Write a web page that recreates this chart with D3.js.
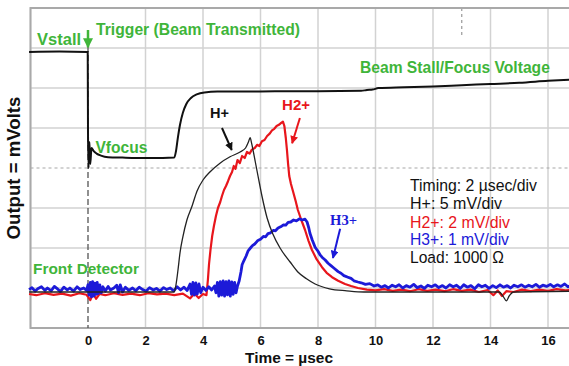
<!DOCTYPE html>
<html>
<head>
<meta charset="utf-8">
<script src="https://cdn.jsdelivr.net/npm/d3@7"></script>
<style>
  html, body { margin: 0; padding: 0; background: #fff; }
  svg { display: block; font-family: 'Liberation Sans', Arial, sans-serif; }
</style>
</head>
<body>
<svg id="chart" width="569" height="366"></svg>
<script>
// time in usec, output in screen divisions (0 = centre line)
const xTicks = [0, 2, 4, 6, 8, 10, 12, 14, 16];
const xGridLines = [-2, 2, 4, 6, 8, 10, 12, 14, 16];
const yGridLines = [-4, -3, -2, -1, 1, 2, 3, 4];

const focusTrace = [
  [-2.05, 2.9], [-1.0, 2.91], [-0.01, 2.9], [0.0, 0.9], [0.02, 0.0], [0.05, 0.65],
  [0.08, 0.1], [0.12, 0.5], [0.2, 0.42], [0.3, 0.36], [0.45, 0.31], [0.7, 0.27],
  [1.2, 0.26], [2.0, 0.25], [2.6, 0.25], [3.0, 0.26], [3.06, 0.42], [3.13, 0.78],
  [3.2, 1.08], [3.3, 1.38], [3.42, 1.6], [3.58, 1.75], [3.78, 1.84], [4.05, 1.89],
  [4.5, 1.91], [5.5, 1.91], [6.5, 1.92], [8.0, 1.92], [9.5, 1.93], [9.7, 1.95],
  [9.9, 1.96], [10.1, 2.0], [11.0, 2.02], [12.0, 2.04], [13.0, 2.07], [14.0, 2.1],
  [15.0, 2.13], [16.0, 2.18], [17.0, 2.22]
];

const hPlusTrace = [
  [-2.05, -3.1], [3.0, -3.1], [3.06, -2.92], [3.13, -2.55], [3.2, -2.12], [3.3, -1.72],
  [3.44, -1.3], [3.62, -0.95], [3.79, -0.58], [4.0, -0.3], [4.24, -0.1], [4.59, 0.12],
  [4.94, 0.28], [5.29, 0.4], [5.48, 0.5], [5.58, 0.65], [5.64, 0.76], [5.69, 0.62],
  [5.74, 0.45], [5.82, 0.15], [5.9, -0.15], [6.05, -0.7], [6.23, -1.25], [6.43, -1.65],
  [6.68, -2.0], [7.03, -2.35], [7.3, -2.6], [7.6, -2.77], [7.9, -2.9], [8.4, -3.02],
  [9.0, -3.07], [9.6, -3.1], [12.0, -3.1], [14.3, -3.1], [14.45, -3.22], [14.55, -3.32],
  [14.65, -3.2], [14.8, -3.1], [17.0, -3.08]
];

const h2Trace = [
  [-2.05, -3.15], [-1.8, -3.18], [-1.5, -3.13], [-1.2, -3.17], [-0.9, -3.14], [-0.6, -3.19],
  [-0.3, -3.13], [-0.05, -3.17], [0.08, -3.3], [0.18, -3.14], [0.28, -3.27], [0.4, -3.15],
  [0.6, -3.18], [0.9, -3.13], [1.2, -3.17], [1.5, -3.14], [1.8, -3.18], [2.1, -3.13],
  [2.4, -3.16], [2.7, -3.14], [3.0, -3.18], [3.3, -3.14], [3.55, -3.26], [3.7, -3.14],
  [3.85, -3.25], [4.0, -3.15], [4.12, -3.18], [4.17, -2.8], [4.21, -2.4], [4.26, -2.05],
  [4.32, -1.7], [4.38, -1.45], [4.45, -1.2], [4.52, -1.0], [4.6, -0.85], [4.66, -0.7],
  [4.73, -0.55], [4.8, -0.45], [4.87, -0.33], [4.94, -0.2], [5.01, -0.1], [5.07, 0.05],
  [5.13, -0.02], [5.2, 0.2], [5.28, 0.12], [5.36, 0.3], [5.45, 0.25], [5.53, 0.4],
  [5.62, 0.36], [5.7, 0.46], [5.8, 0.5], [5.88, 0.58], [5.96, 0.55], [6.05, 0.67],
  [6.14, 0.7], [6.23, 0.8], [6.32, 0.86], [6.4, 0.94], [6.48, 0.98], [6.56, 1.05],
  [6.64, 1.08], [6.72, 1.13], [6.78, 1.16], [6.83, 1.05], [6.88, 0.75], [6.92, 0.45],
  [6.96, 0.1], [7.0, -0.2], [7.06, -0.4], [7.13, -0.58], [7.22, -0.82], [7.3, -1.05],
  [7.42, -1.3], [7.55, -1.55], [7.67, -1.82], [7.79, -2.05], [7.95, -2.28], [8.14, -2.48],
  [8.3, -2.62], [8.49, -2.73], [8.7, -2.82], [8.94, -2.9], [9.15, -2.95], [9.39, -3.0],
  [9.7, -3.04], [10.0, -3.06], [10.3, -3.03], [10.6, -3.07], [10.9, -3.04], [11.2, -3.08],
  [11.5, -3.03], [11.8, -3.07], [12.1, -3.04], [12.4, -3.08], [12.7, -3.03], [13.0, -3.07],
  [13.3, -3.04], [13.6, -3.1], [13.9, -3.05], [14.1, -3.18], [14.25, -3.06], [14.4, -3.2],
  [14.55, -3.08], [14.8, -3.1], [15.1, -3.04], [15.4, -3.08], [15.7, -3.04], [16.0, -3.07],
  [16.3, -3.03], [16.6, -3.06], [17.0, -3.04]
];

const h3Trace = [
  [-2.05, -3.04], [-1.95, -2.99], [-1.84, -3.08], [-1.75, -3.02], [-1.62, -2.97], [-1.5, -3.06],
  [-1.41, -3.0], [-1.28, -3.07], [-1.17, -2.96], [-1.05, -3.03], [-0.96, -3.09], [-0.84, -2.98],
  [-0.72, -3.05], [-0.63, -3.0], [-0.5, -3.08], [-0.38, -2.97], [-0.27, -3.04], [-0.15, -3.0],
  [-0.05, -3.06], [0.0, -2.92], [0.04, -3.18], [0.08, -2.86], [0.12, -3.22], [0.16, -2.84],
  [0.2, -3.2], [0.24, -2.88], [0.28, -3.16], [0.32, -2.86], [0.36, -3.14], [0.41, -2.92],
  [0.46, -3.12], [0.52, -2.97], [0.6, -3.08], [0.7, -2.96], [0.78, -3.05], [0.9, -3.0],
  [1.0, -2.93], [1.06, -3.12], [1.12, -2.92], [1.2, -3.1], [1.3, -2.98], [1.42, -3.06],
  [1.55, -3.0], [1.66, -3.07], [1.78, -2.98], [1.9, -3.04], [2.02, -3.08], [2.14, -2.99],
  [2.27, -3.05], [2.38, -3.01], [2.5, -3.08], [2.63, -2.99], [2.74, -3.04], [2.86, -3.0],
  [2.98, -3.07], [3.1, -2.97], [3.22, -3.05], [3.34, -2.98], [3.45, -3.06], [3.55, -2.9],
  [3.6, -3.16], [3.65, -2.86], [3.7, -3.18], [3.75, -2.87], [3.8, -3.15], [3.86, -2.9],
  [3.92, -3.12], [4.0, -2.98], [4.1, -3.06], [4.2, -2.97], [4.3, -3.05], [4.4, -2.95],
  [4.45, -3.12], [4.5, -2.86], [4.55, -3.2], [4.6, -2.84], [4.65, -3.18], [4.7, -2.82],
  [4.75, -3.2], [4.8, -2.84], [4.85, -3.17], [4.9, -2.82], [4.95, -3.2], [5.0, -2.85],
  [5.05, -3.16], [5.1, -2.86], [5.15, -3.12], [5.2, -2.95], [5.26, -2.82], [5.32, -2.6],
  [5.36, -2.42], [5.42, -2.32], [5.5, -2.2], [5.57, -2.07], [5.65, -2.0], [5.72, -1.94],
  [5.8, -1.9], [5.91, -1.81], [6.0, -1.78], [6.1, -1.71], [6.18, -1.72], [6.26, -1.64],
  [6.35, -1.62], [6.45, -1.56], [6.52, -1.57], [6.61, -1.5], [6.7, -1.47], [6.8, -1.42],
  [6.88, -1.43], [6.96, -1.36], [7.05, -1.35], [7.15, -1.3], [7.25, -1.32], [7.35, -1.27],
  [7.45, -1.3], [7.55, -1.28], [7.62, -1.35], [7.68, -1.5], [7.72, -1.63], [7.8, -1.8],
  [7.9, -1.98], [8.0, -2.08], [8.08, -2.18], [8.14, -2.23], [8.25, -2.3], [8.35, -2.38],
  [8.45, -2.44], [8.55, -2.5], [8.7, -2.59], [8.8, -2.63], [8.9, -2.69], [9.04, -2.73],
  [9.15, -2.76], [9.25, -2.82], [9.39, -2.85], [9.5, -2.87], [9.65, -2.91], [9.8, -2.89],
  [9.95, -2.95], [10.08, -2.92], [10.2, -2.98], [10.33, -2.94], [10.45, -3.0], [10.58, -2.93],
  [10.7, -2.97], [10.82, -2.92], [10.95, -3.0], [11.07, -2.94], [11.2, -2.98], [11.33, -2.91],
  [11.45, -2.99], [11.58, -2.95], [11.7, -3.01], [11.82, -2.93], [11.95, -2.97], [12.08, -2.92],
  [12.2, -2.99], [12.33, -2.94], [12.45, -3.0], [12.58, -2.92], [12.7, -2.97], [12.82, -2.93],
  [12.95, -3.01], [13.07, -2.92], [13.2, -2.98], [13.32, -2.94], [13.45, -3.02], [13.58, -2.92],
  [13.7, -2.97], [13.82, -2.93], [13.95, -3.01], [14.08, -2.94], [14.2, -2.99], [14.33, -2.92],
  [14.45, -2.98], [14.58, -2.94], [14.7, -3.0], [14.82, -2.93], [14.95, -2.97], [15.08, -2.92],
  [15.2, -2.98], [15.33, -2.93], [15.45, -2.97], [15.58, -2.91], [15.7, -2.98], [15.82, -2.93],
  [15.95, -2.96], [16.08, -2.91], [16.2, -2.97], [16.33, -2.92], [16.45, -2.96], [16.58, -2.9],
  [16.7, -2.97], [16.82, -2.92], [17.0, -2.95]
];

const greenLabels = ['Vstall', 'Trigger (Beam Transmitted)', 'Beam Stall/Focus Voltage', 'Vfocus', 'Front Detector'];
const traceLabels = ['H+', 'H2+', 'H3+'];
const legendLines = ['Timing: 2 \u00b5sec/div', 'H+: 5 mV/div', 'H2+: 2 mV/div', 'H3+: 1 mV/div', 'Load: 1000 \u03a9'];

const GREEN = '#3fb53a';
const RED = '#e8161c';
const BLUE = '#1c1ad8';

const svg = d3.select('#chart');
const x = d3.scaleLinear().domain([-2, 17]).range([30.5, 576.75]);
const y = d3.scaleLinear().domain([-4, 4]).range([328, 8]);

// fit a text element to a target width
function fit(sel, width) {
  sel.each(function () {
    const len = this.getComputedTextLength();
    const fs = parseFloat(d3.select(this).attr('font-size'));
    d3.select(this).attr('font-size', (fs * width / len).toFixed(2));
  });
  return sel;
}

// grid
const grid = svg.append('g');
grid.selectAll('.vg').data(xGridLines).enter().append('line')
  .attr('x1', (d) => x(d)).attr('x2', (d) => x(d))
  .attr('y1', y(4)).attr('y2', y(-4))
  .attr('stroke', '#d2d2d2').attr('stroke-width', 1.5);
grid.selectAll('.hg').data(yGridLines).enter().append('line')
  .attr('x1', x(-2)).attr('x2', 569)
  .attr('y1', (d) => y(d)).attr('y2', (d) => y(d))
  .attr('stroke', '#d2d2d2').attr('stroke-width', 1.5);
grid.append('line')
  .attr('x1', x(-2)).attr('x2', 569).attr('y1', y(0)).attr('y2', y(0))
  .attr('stroke', '#a8a8a8').attr('stroke-width', 1.2).attr('stroke-dasharray', '3,3');
grid.append('line')
  .attr('x1', x(13)).attr('x2', x(13)).attr('y1', y(4)).attr('y2', y(3.3))
  .attr('stroke', '#999').attr('stroke-width', 1.2).attr('stroke-dasharray', '3,3');

// frame
svg.append('path')
  .attr('d', `M569,${y(4)}H${x(-2)}V${y(-4)}H569`)
  .attr('fill', 'none').attr('stroke', '#a9a9a9').attr('stroke-width', 2);

// trigger line
svg.append('line')
  .attr('x1', x(0)).attr('x2', x(0)).attr('y1', y(3.05)).attr('y2', y(-4))
  .attr('stroke', '#555').attr('stroke-width', 1.3).attr('stroke-dasharray', '6,3');

// x axis labels
const xAxis = d3.axisBottom(x).tickValues(xTicks).tickSize(0).tickPadding(8);
svg.append('g')
  .attr('transform', `translate(0,${y(-4)})`)
  .call(xAxis)
  .call((g) => g.select('.domain').remove())
  .selectAll('text')
  .attr('font-family', "'Liberation Sans', Arial, sans-serif")
  .attr('font-size', 13).attr('font-weight', 'bold').attr('fill', '#111');

fit(svg.append('text')
  .attr('x', 289).attr('y', 358).attr('dy', '0.35em')
  .attr('text-anchor', 'middle').attr('font-weight', 'bold').attr('font-size', 13)
  .attr('fill', '#111').text('Time = \u00b5sec'), 88);

fit(svg.append('text')
  .attr('transform', `translate(13,${y(0)}) rotate(-90)`).attr('dy', '0.35em')
  .attr('text-anchor', 'middle').attr('font-weight', 'bold').attr('font-size', 14)
  .attr('fill', '#111').text('Output = mVolts'), 143);

// traces
const line = d3.line().x((d) => x(d[0])).y((d) => y(d[1]));
const smooth = d3.line().x((d) => x(d[0])).y((d) => y(d[1])).curve(d3.curveMonotoneX);

svg.append('path').datum(h2Trace).attr('d', line)
  .attr('fill', 'none').attr('stroke', RED).attr('stroke-width', 2.2).attr('stroke-linejoin', 'round');
svg.append('path').datum(h3Trace).attr('d', line)
  .attr('fill', 'none').attr('stroke', BLUE).attr('stroke-width', 2.8).attr('stroke-linejoin', 'round');
svg.append('path').datum(hPlusTrace).attr('d', smooth)
  .attr('fill', 'none').attr('stroke', '#222').attr('stroke-width', 1.3);
svg.append('path').datum(focusTrace).attr('d', smooth)
  .attr('fill', 'none').attr('stroke', '#111').attr('stroke-width', 2);

// arrow heads
const defs = svg.append('defs');
[['g', GREEN], ['k', '#111'], ['r', RED], ['b', BLUE]].forEach(([id, c]) => {
  defs.append('marker').attr('id', 'arr-' + id)
    .attr('viewBox', '0 0 10 10').attr('refX', 9).attr('refY', 5)
    .attr('markerWidth', 4).attr('markerHeight', 4).attr('orient', 'auto')
    .append('path').attr('d', 'M0,0L10,5L0,10Z').attr('fill', c);
});

const arrows = [
  { from: [0, 3.45], to: [0, 3.02], c: GREEN, m: 'g', w: 2.5 },
  { from: [4.66, 1.0], to: [5.0, 0.45], c: '#111', m: 'k', w: 2 },
  { from: [7.37, 1.25], to: [7.1, 0.62], c: RED, m: 'r', w: 2 },
  { from: [8.77, -1.52], to: [8.52, -2.25], c: BLUE, m: 'b', w: 2 }
];
svg.selectAll('.arrow').data(arrows).enter().append('line')
  .attr('x1', (d) => x(d.from[0])).attr('y1', (d) => y(d.from[1]))
  .attr('x2', (d) => x(d.to[0])).attr('y2', (d) => y(d.to[1]))
  .attr('stroke', (d) => d.c).attr('stroke-width', (d) => d.w)
  .attr('marker-end', (d) => `url(#arr-${d.m})`);

// green annotations: [left t, centre v, target width]
const greenPos = [[-1.77, 3.22, 44], [0.28, 3.45, 204], [9.46, 2.52, 190], [0.26, 0.5, 52], [-1.91, -2.52, 106]];
greenLabels.forEach((t, i) => {
  const p = greenPos[i];
  fit(svg.append('text')
    .attr('x', x(p[0])).attr('y', y(p[1])).attr('dy', '0.35em')
    .attr('font-weight', 'bold').attr('font-size', 13).attr('fill', GREEN).text(t), p[2]);
});

const tracePos = [[4.24, 1.38, 19, '#111', "'Liberation Sans', Arial, sans-serif"],
  [6.75, 1.58, 28, RED, "'Liberation Sans', Arial, sans-serif"],
  [8.42, -1.3, 27, BLUE, "'Liberation Serif', 'Times New Roman', serif"]];
traceLabels.forEach((t, i) => {
  const p = tracePos[i];
  fit(svg.append('text')
    .attr('x', x(p[0])).attr('y', y(p[1])).attr('dy', '0.35em')
    .attr('font-family', p[4])
    .attr('font-weight', 'bold').attr('font-size', 13).attr('fill', p[3]).text(t), p[2]);
});

// legend block
const legendV = [-0.43, -0.88, -1.35, -1.8, -2.25];
const legendW = [127, 92, 100, 99, 94];
const legendC = ['#111', '#111', RED, BLUE, '#111'];
legendLines.forEach((t, i) => {
  fit(svg.append('text')
    .attr('x', x(11.2)).attr('y', y(legendV[i])).attr('dy', '0.35em')
    .attr('font-size', 13).attr('fill', legendC[i]).text(t), legendW[i]);
});
</script>
</body>
</html>
